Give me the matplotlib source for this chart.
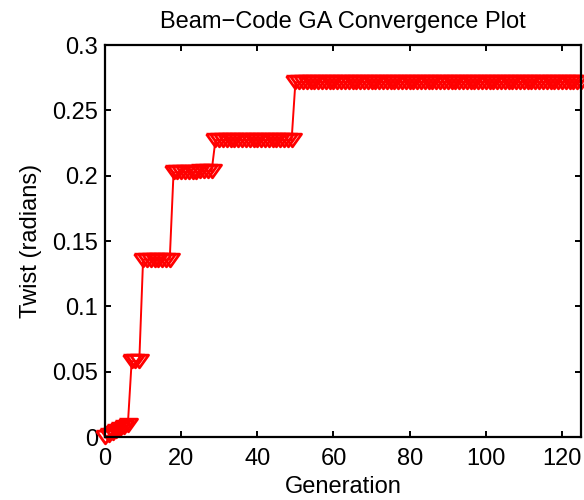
import numpy as np
import matplotlib
matplotlib.use('Agg')
import matplotlib.pyplot as plt

# values
early_twist = [0.0, 0.0015, 0.003, 0.0045, 0.006, 0.0075, 0.0095]   # generations 0-6
plateau_twist = [0.058, 0.1358, 0.2025, 0.2035, 0.2272, 0.2715]
plateau_len = [3, 8, 7, 4, 21, 76]

twist = np.concatenate((early_twist, np.repeat(plateau_twist, plateau_len)))
generation = np.arange(twist.shape[0])

xticks = [0, 20, 40, 60, 80, 100, 120]
yticks = [0, 0.05, 0.1, 0.15, 0.2, 0.25, 0.3]
ytick_labels = ['0', '0.05', '0.1', '0.15', '0.2', '0.25', '0.3']

plt.rcParams['font.family'] = ['Liberation Sans', 'DejaVu Sans']
plt.rcParams['font.size'] = 17

# flattened down-pointing triangle, like the matlab 'v' marker here
tri = [(-1, 0.7), (1, 0.7), (0, -0.7), (-1, 0.7)]

fig = plt.figure(figsize=(5.84, 5.0), dpi=100)
ax = fig.add_axes([105 / 584, 63 / 500, 476 / 584, 392 / 500])
ax.plot(generation, twist, '-', color='red', linewidth=1.4,
        marker=tri, markersize=13, markerfacecolor='none',
        markeredgecolor='red', markeredgewidth=2.0, clip_on=False)

ax.set_xlim(0, 125)
ax.set_ylim(0, 0.3)
ax.set_xticks(xticks)
ax.set_yticks(yticks)
ax.set_yticklabels(ytick_labels)
ax.tick_params(direction='in', length=4, width=1.4, top=True, right=True,
               labelsize=17, pad=5)
ax.tick_params(axis='x', pad=8)
for s in ax.spines.values():
    s.set_linewidth(1.6)

ax.set_xlabel('Generation', fontsize=17, labelpad=4)
ax.set_ylabel('Twist (radians)', fontsize=17, labelpad=7)
ax.set_title('Beam\u2212Code GA Convergence Plot', fontsize=17, pad=12)

fig.savefig('out.png', dpi=100)
plt.close()
